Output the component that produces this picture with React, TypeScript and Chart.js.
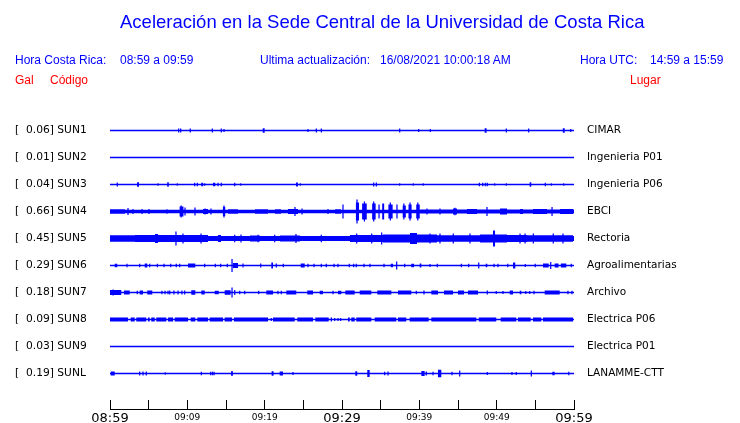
import React, { useEffect, useRef } from 'react';
import { Chart, registerables } from 'chart.js';

Chart.register(...registerables);

// ---------- data ----------
const stationCodes = ['SUN1', 'SUN2', 'SUN3', 'SUN4', 'SUN5', 'SUN6', 'SUN7', 'SUN8', 'SUN9', 'SUNL'];
const stationPlaces = ['CIMAR', 'Ingenieria P01', 'Ingenieria P06', 'EBCI', 'Rectoria', 'Agroalimentarias', 'Archivo', 'Electrica P06', 'Electrica P01', 'LANAMME-CTT'];
const peakGal = [0.06, 0.01, 0.04, 0.66, 0.45, 0.29, 0.18, 0.09, 0.03, 0.19];
const timeLabels = ['08:59', '09:09', '09:19', '09:29', '09:39', '09:49', '09:59'];
// background noise half-amplitude of each trace
const noiseFloor = [0.65, 0.65, 0.65, 1.7, 2.5, 0.65, 0.65, 0.65, 0.65, 0.65];

// bursts: [minute, amplitude] or [startMinute, endMinute, amplitude]  (minutes after 08:59)
type Burst = number[];
const sun1Bursts: Burst[] = [[8.88, 2], [9.14, 2], [10.38, 2], [13.23, 2], [14.39, 2], [14.74, 1.5], [19.75, 20.0, 2.2], [25.6, 1.5], [26.68, 2], [27.33, 2], [37.46, 2], [39.92, 1.5], [41.42, 1.5], [48.45, 48.7, 2.2], [51.25, 2], [54.14, 2], [58.55, 58.8, 2.2], [59.58, 1.5]];
const sun2Bursts: Burst[] = [];
const sun3Bursts: Burst[] = [[0.94, 2], [3.5, 3.75, 2.2], [6.21, 1.3], [7.4, 7.6, 2.2], [8.7, 1.3], [10.95, 1.7], [11.29, 1.7], [11.8, 12.05, 1.8], [12.25, 1.3], [13.32, 13.62, 1.8], [13.97, 1.7], [14.39, 1.7], [16.13, 1.7], [16.9, 1.3], [24.05, 24.3, 2], [24.61, 1.3], [34.1, 2], [34.44, 2], [37.46, 1.3], [39.22, 1.3], [40.51, 1.3], [47.76, 1.7], [48.2, 1.7], [48.53, 1.7], [48.79, 1.7], [49.75, 1.3], [51.25, 1.3], [54.27, 54.48, 2.2], [56.29, 1.7], [57.07, 1.3], [58.67, 1.3]];
const sun4Bursts: Burst[] = [[0, 1.94, 2.2], [2.33, 3.5], [2.97, 2.5], [4.14, 2.5], [5.04, 2.5], [7.37, 2.3], [9.0, 9.5, 5], [9.2, 6], [9.7, 4], [10.99, 4], [12.03, 12.67, 2.5], [12.3, 3], [13.06, 3], [14.6, 14.9, 4.5], [14.74, 6], [15.26, 16.55, 2.2], [18.75, 20.43, 2.2], [21.34, 22.11, 2.2], [23.02, 24.31, 2.6], [23.92, 4.5], [24.83, 3], [28.19, 2.5], [29.1, 29.87, 2.2], [30.13, 7], [31.8, 32.2, 9], [31.94, 12], [32.6, 33.2, 8], [32.9, 10], [33.9, 34.35, 8], [34.1, 10], [34.79, 7], [35.2, 35.45, 8], [36.0, 36.55, 7], [36.25, 9], [37.11, 7], [37.85, 38.25, 6], [38.0, 8], [38.6, 39.0, 7], [38.8, 9], [39.6, 40.05, 7], [39.8, 9], [40.1, 60, 2], [40.99, 3], [42.67, 3], [44.35, 44.87, 3], [44.6, 3.8], [46.16, 47.45, 2.6], [48.75, 4.5], [50.43, 51.34, 3], [53.02, 53.41, 2.6], [54.7, 56.51, 2.6], [57.16, 4.5], [58.19, 59.87, 2.4]];
const sun5Bursts: Burst[] = [[0, 3.23, 3.2], [3.23, 8.79, 3.5], [5.82, 6.21, 4.5], [8.53, 7], [8.79, 12.67, 3.5], [9.44, 5], [11.77, 5], [13.97, 14.35, 3.5], [16.13, 3.8], [16.94, 4], [18.1, 19.4, 3.1], [19.14, 3.8], [21.3, 3.8], [21.98, 24.57, 3], [24.05, 4.5], [27.32, 3.8], [31.03, 35.3, 3.5], [31.9, 5], [33.84, 5], [35.13, 6], [35.3, 42.29, 3.9], [38.79, 39.7, 5.5], [41.38, 5], [42.29, 47.85, 3.2], [42.67, 5], [44.39, 5], [46.55, 5], [47.85, 51.34, 3.9], [49.53, 49.79, 8], [51.34, 53.92, 3.5], [53.02, 5], [53.67, 5], [53.92, 59.87, 3.2], [54.74, 5], [57.32, 5], [58.58, 5]];
const sun6Bursts: Burst[] = [[0.61, 0.94, 1.8], [2.2, 1.8], [3.84, 1.8], [4.49, 4.82, 2], [5.13, 1.7], [6.12, 1.7], [6.98, 1.7], [7.85, 1.7], [8.57, 1.7], [9.01, 1.7], [10.09, 11.03, 2], [12.16, 12.32, 1.8], [13.62, 1.8], [14.31, 1.7], [15.17, 1.8], [15.78, 6.5], [15.9, 16.55, 2.5], [17.2, 2], [19.49, 2], [20.86, 21.08, 3], [21.5, 2], [22.41, 1.7], [24.66, 25.18, 2], [25.6, 1.8], [26.38, 1.8], [27.32, 1.7], [27.97, 1.7], [28.97, 1.8], [29.48, 1.7], [30.94, 1.7], [31.51, 1.7], [31.85, 1.7], [32.84, 1.8], [33.62, 1.8], [35.43, 1.7], [36.3, 36.6, 1.8], [37.07, 4], [38.11, 1.8], [38.96, 39.31, 1.8], [40.05, 40.26, 2], [41.38, 1.5], [42.32, 1.8], [45.43, 1.7], [46.38, 1.7], [47.68, 3], [48.58, 48.79, 1.8], [49.66, 1.7], [50.17, 1.7], [51.43, 1.7], [52.11, 52.41, 3], [53.7, 1.5], [54.99, 1.7], [55.99, 56.73, 2], [56.99, 3.5], [57.5, 58.0, 2], [58.3, 59.0, 2], [59.65, 1.7]];
const sun7Bursts: Burst[] = [[0, 1.46, 2.5], [0.4, 3], [1.81, 2.55, 2], [3.53, 1.8], [3.84, 4.27, 2], [4.82, 5.47, 2], [6.72, 1.8], [7.11, 1.8], [7.5, 1.8], [7.72, 2], [8.27, 2], [8.8, 2], [9.3, 2], [9.66, 2], [10.51, 11.03, 2.2], [11.81, 12.25, 2], [13.54, 14.06, 1.8], [14.83, 15.6, 2.2], [15.78, 5], [16.13, 2.5], [16.77, 1.8], [17.42, 1.8], [19.23, 1.7], [20.21, 21.08, 2], [21.72, 1.7], [22.15, 1.7], [22.8, 24.09, 2], [25.51, 26.25, 2], [27.12, 27.54, 1.8], [28.84, 1.7], [29.48, 29.91, 1.8], [30.43, 31.64, 2], [32.29, 33.79, 2], [34.56, 36.38, 2], [37.24, 38.96, 2], [39.61, 1.7], [40.6, 2], [41.55, 42.41, 2], [43.19, 44.35, 2], [45.0, 45.78, 2], [46.29, 47.59, 2], [48.79, 2], [49.95, 1.5], [50.82, 1.5], [51.69, 52.11, 2], [52.98, 53.19, 1.8], [53.76, 1.5], [54.27, 1.5], [54.83, 1.8], [56.21, 58.15, 2], [59.22, 1.7], [59.74, 1.7]];
const sun8Bursts: Burst[] = [[0, 2.33, 2], [2.68, 3.19, 2], [3.4, 4.69, 2], [4.91, 5.13, 2], [5.34, 5.78, 2], [5.99, 7.28, 2], [7.5, 8.15, 2], [8.37, 10.09, 2], [10.44, 11.03, 2], [11.29, 12.67, 2], [12.89, 14.61, 2], [14.83, 15.78, 2], [16.03, 20.43, 2], [20.86, 1.5], [21.08, 23.88, 2], [24.22, 26.25, 2], [26.55, 28.28, 2], [28.54, 28.71, 2], [29.06, 1.5], [29.48, 1.5], [29.83, 1.5], [30.78, 31.0, 2], [31.2, 31.64, 2], [31.85, 33.79, 2], [34.23, 37.02, 2], [37.24, 38.31, 2], [38.75, 41.21, 2], [41.55, 47.37, 2], [47.68, 49.95, 2], [50.52, 52.54, 2], [52.76, 54.4, 2], [54.7, 55.77, 2], [55.99, 59.87, 2]];
const sun9Bursts: Burst[] = [];
const sunLBursts: Burst[] = [[0.09, 0.61, 2], [3.84, 2], [4.27, 2], [4.69, 2], [7.15, 1.3], [11.81, 1.7], [13.02, 1.8], [13.25, 1.8], [13.45, 1.8], [15.65, 15.9, 2.2], [20.9, 21.15, 2.2], [21.94, 22.37, 2], [23.66, 1.5], [31.72, 31.97, 2.2], [33.27, 33.58, 3.5], [35.52, 1.7], [35.95, 2], [40.26, 40.69, 2.5], [40.9, 2], [41.77, 1.7], [42.41, 42.84, 3.8], [44.22, 1.7], [45.22, 3], [48.79, 1.5], [51.98, 1.5], [52.54, 1.5], [54.48, 3], [57.2, 57.5, 1.7], [59.32, 1.7]];

const allBursts = [sun1Bursts, sun2Bursts, sun3Bursts, sun4Bursts, sun5Bursts, sun6Bursts, sun7Bursts, sun8Bursts, sun9Bursts, sunLBursts];

// ---------- layout / style constants ----------
const T_MIN = 0;
const T_MAX = 60;
const MIN_W = 0.16; // narrowest spike, minutes
const AMP_SCALE = 1 / 27; // amplitude units per trace spacing
const Y_MAX = 11;
const TRACE_TOP = 10.315;
const BLUE = '#0000ff';
const FONT = "'Liberation Sans', Arial, sans-serif";
const MONO = "'DejaVu Sans', sans-serif";

function envelope(floor: number, bursts: Burst[]) {
  const segs = bursts.map((b) => {
    let s = b[0];
    let e = b.length === 3 ? b[1] : b[0];
    const amp = b[b.length - 1];
    if (e - s < MIN_W) {
      const m = (s + e) / 2;
      s = m - MIN_W / 2;
      e = m + MIN_W / 2;
    }
    return [Math.max(T_MIN, s), Math.min(T_MAX, e), amp];
  });
  const cuts = Array.from(new Set([T_MIN, T_MAX, ...segs.flatMap((s) => [s[0], s[1]])])).sort((a, b) => a - b);
  return cuts.map((t, i) => {
    const next = i < cuts.length - 1 ? cuts[i + 1] : t;
    const mid = (t + next) / 2;
    let a = floor;
    for (const s of segs) if (s[0] <= mid && mid <= s[1] && s[2] > a) a = s[2];
    return { t, a };
  });
}

const centers = stationCodes.map((_, i) => TRACE_TOP - i);

function buildDatasets() {
  const ds: any[] = [];
  stationCodes.forEach((code, i) => {
    const env = envelope(noiseFloor[i], allBursts[i]);
    const c = centers[i];
    // upper envelope (no fill of its own)
    ds.push({
      label: code + '+',
      data: env.map((p) => ({ x: p.t, y: c + p.a * AMP_SCALE })),
      stepped: true,
      borderWidth: 0,
      borderColor: 'rgba(0,0,0,0)',
      backgroundColor: BLUE,
      pointRadius: 0,
      fill: false,
    });
    // lower envelope, filled up to the upper envelope as one shape
    ds.push({
      label: code + '-',
      data: env.map((p) => ({ x: p.t, y: c - p.a * AMP_SCALE })),
      stepped: true,
      borderWidth: 0,
      borderColor: 'rgba(0,0,0,0)',
      backgroundColor: BLUE,
      pointRadius: 0,
      fill: '-1',
    });
  });
  return ds;
}

function Txt({ x, y, size, color, children }: { x: number; y: number; size: number; color: string; children: React.ReactNode }) {
  return (
    <div
      style={{
        position: 'absolute',
        left: x,
        top: y - size * 0.49,
        fontSize: size,
        lineHeight: 1,
        fontFamily: FONT,
        color,
        whiteSpace: 'pre',
      }}
    >
      {children}
    </div>
  );
}

export default function App() {
  const ref = useRef<HTMLCanvasElement>(null);
  useEffect(() => {
    if (!ref.current) return;
    const chart = new Chart(ref.current, {
      type: 'line',
      data: { datasets: buildDatasets() },
      options: {
        responsive: false,
        animation: false,
        events: [],
        layout: { padding: { top: 112, left: 15, right: 0, bottom: 0 } },
        plugins: { legend: { display: false }, tooltip: { enabled: false }, title: { display: false } },
        scales: {
          x: {
            type: 'linear',
            min: T_MIN,
            max: T_MAX,
            afterFit: (s: any) => {
              s.height = 14;
            },
            ticks: {
              stepSize: 5,
              autoSkip: false,
              maxRotation: 0,
              padding: 10.6,
              color: '#000',
              font: (ctx: any) => {
                const v = ctx.tick ? ctx.tick.value : 0;
                return v % 30 === 0
                  ? { family: MONO, size: 13, lineHeight: 1.2 }
                  : { family: MONO, size: 9, lineHeight: 1.5 };
              },
              callback: (v: any) => (Number(v) % 10 === 0 ? timeLabels[Number(v) / 10] : ''),
            },
            grid: { display: true, drawOnChartArea: false, drawTicks: true, tickLength: -9, color: '#000', tickColor: '#000', lineWidth: 1 },
            border: { display: true, color: '#000', width: 1 },
          },
          y: {
            type: 'linear',
            position: 'left',
            min: 0,
            max: Y_MAX,
            afterFit: (s: any) => {
              s.width = 95;
            },
            afterBuildTicks: (s: any) => {
              s.ticks = centers.map((v) => ({ value: v }));
            },
            ticks: {
              crossAlign: 'far',
              padding: 0,
              color: '#000',
              font: { family: MONO, size: 10.7 },
              callback: (_v: any, i: number) => `[${peakGal[i].toFixed(2).padStart(6, ' ')}] ${stationCodes[i]}`,
            },
            grid: { display: false, drawTicks: false },
            border: { display: false },
          },
          y2: {
            type: 'linear',
            position: 'right',
            min: 0,
            max: Y_MAX,
            afterFit: (s: any) => {
              s.width = 166;
            },
            afterBuildTicks: (s: any) => {
              s.ticks = centers.map((v) => ({ value: v }));
            },
            ticks: {
              padding: 0,
              color: '#000',
              font: { family: MONO, size: 10.5 },
              callback: (_v: any, i: number) => stationPlaces[i],
            },
            grid: { display: false, drawTicks: true, tickLength: 13 },
            border: { display: false },
          },
        },
      } as any,
    });
    return () => chart.destroy();
  }, []);

  return (
    <div style={{ position: 'absolute', left: 0, top: 0, width: 740, height: 423, background: '#fff', overflow: 'hidden' }}>
      <canvas ref={ref} width={740} height={423} style={{ position: 'absolute', left: 0, top: 0 }} />
      <Txt x={120} y={22} size={18.5} color={BLUE}>Aceleración en la Sede Central de la Universidad de Costa Rica</Txt>
      <Txt x={15} y={60} size={12} color={BLUE}>Hora Costa Rica:</Txt>
      <Txt x={120} y={60} size={12} color={BLUE}>08:59 a 09:59</Txt>
      <Txt x={260} y={60} size={12} color={BLUE}>Ultima actualización:</Txt>
      <Txt x={380} y={60} size={12} color={BLUE}>16/08/2021 10:00:18 AM</Txt>
      <Txt x={580} y={60} size={12} color={BLUE}>Hora UTC:</Txt>
      <Txt x={650} y={60} size={12} color={BLUE}>14:59 a 15:59</Txt>
      <Txt x={15} y={80} size={12} color="#ff0000">Gal</Txt>
      <Txt x={50} y={80} size={12} color="#ff0000">Código</Txt>
      <Txt x={630} y={80} size={12} color="#ff0000">Lugar</Txt>
    </div>
  );
}
